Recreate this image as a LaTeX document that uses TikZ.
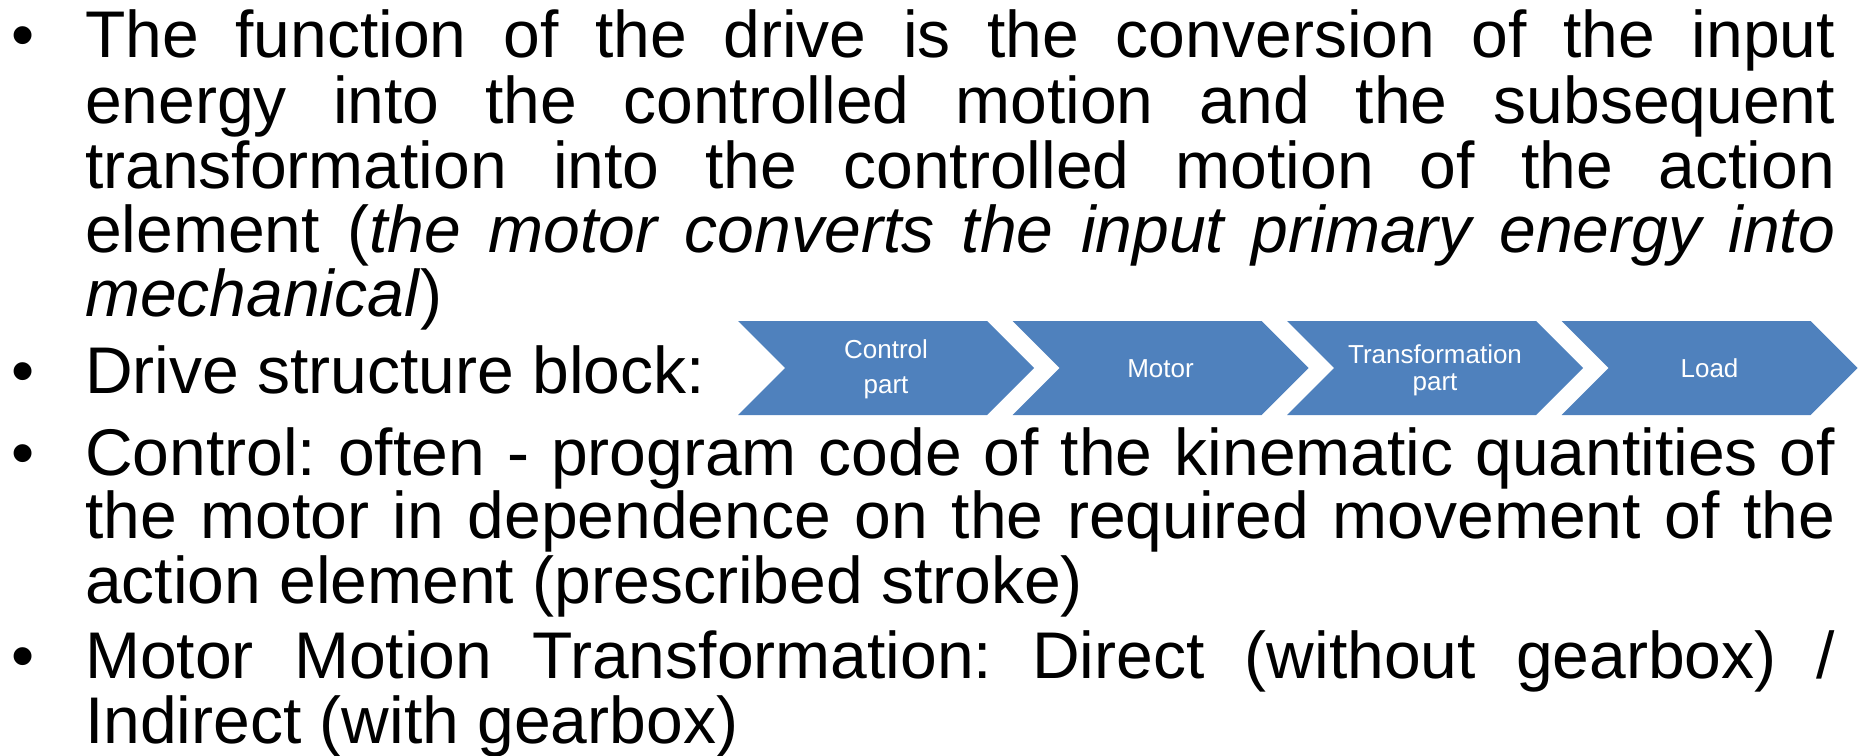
\documentclass[tikz,border=0pt]{standalone}
\usepackage{fontspec}
\setmainfont{Liberation Sans}

\definecolor{chevblue}{HTML}{4F81BD}

% one justified line of the text block
\newcommand{\fullline}[1]{\makebox[1750bp][s]{#1}}

\begin{document}
\frenchspacing
\begin{tikzpicture}[x=1bp,y=-1bp]

  \useasboundingbox (0,0) rectangle (1858,756);

  % node styles
  \tikzstyle{Line}=[
  anchor=base west,
  inner sep=0,
  font=\fontsize{66bp}{66bp}\selectfont]

  \tikzstyle{Dot}=[anchor=base,inner sep=0,font=\fontsize{66bp}{66bp}\selectfont]

  \tikzstyle{Chev}=[fill=chevblue,draw=none]

  \tikzstyle{ChevText}=[anchor=base,inner sep=0,align=center,text=white]

  % bullets
  \node[Dot] (B1) at (23, 58) {•};
  \node[Dot] (B2) at (23,393) {•};
  \node[Dot] (B3) at (23,475) {•};
  \node[Dot] (B4) at (23,678) {•};

  % first item
  \node[Line] (L1) at (85, 58) {\fullline{The function of the drive is the conversion of the input}};
  \node[Line] (L2) at (85,123) {\fullline{energy into the controlled motion and the subsequent}};
  \node[Line] (L3) at (85,188) {\fullline{transformation into the controlled motion of the action}};
  \node[Line] (L4) at (85,252) {\fullline{element (\textit{the motor converts the input primary energy into}}};
  \node[Line] (L5) at (85,316) {\textit{mechanical})};

  % second item with the block
  \node[Line] (L6) at (85,393) {Drive structure block:};

  \foreach \i/\nm/\skp/\bl/\txt in {0/CP/35/393/{Control\\part},
                                   1/MO/27/377/{Motor},
                                   2/TP/27/390/{Transformation\\part},
                                   3/LD/27/377/{Load}}{
    \pgfmathsetmacro{\xl}{738+274.5*\i}
    \fill[Chev] (\xl,321) -- ++(249,0) -- ++(47,47) -- ++(-47,47)
                -- ++(-249,0) -- ++(47,-47) -- cycle;
    \node[ChevText,font=\fontsize{26bp}{\skp bp}\selectfont] (\nm) at (\xl+148,\bl) {\txt};
  }

  % third item
  \node[Line] (L7) at (85,475) {\fullline{Control: often - program code of the kinematic quantities of}};
  \node[Line] (L8) at (85,538) {\fullline{the motor in dependence on the required movement of the}};
  \node[Line] (L9) at (85,603) {action element (prescribed stroke)};

  % fourth item
  \node[Line] (L10) at (85,678) {\fullline{Motor Motion Transformation: Direct (without gearbox) /}};
  \node[Line] (L11) at (85,743) {Indirect (with gearbox)};

\end{tikzpicture}
\end{document}
